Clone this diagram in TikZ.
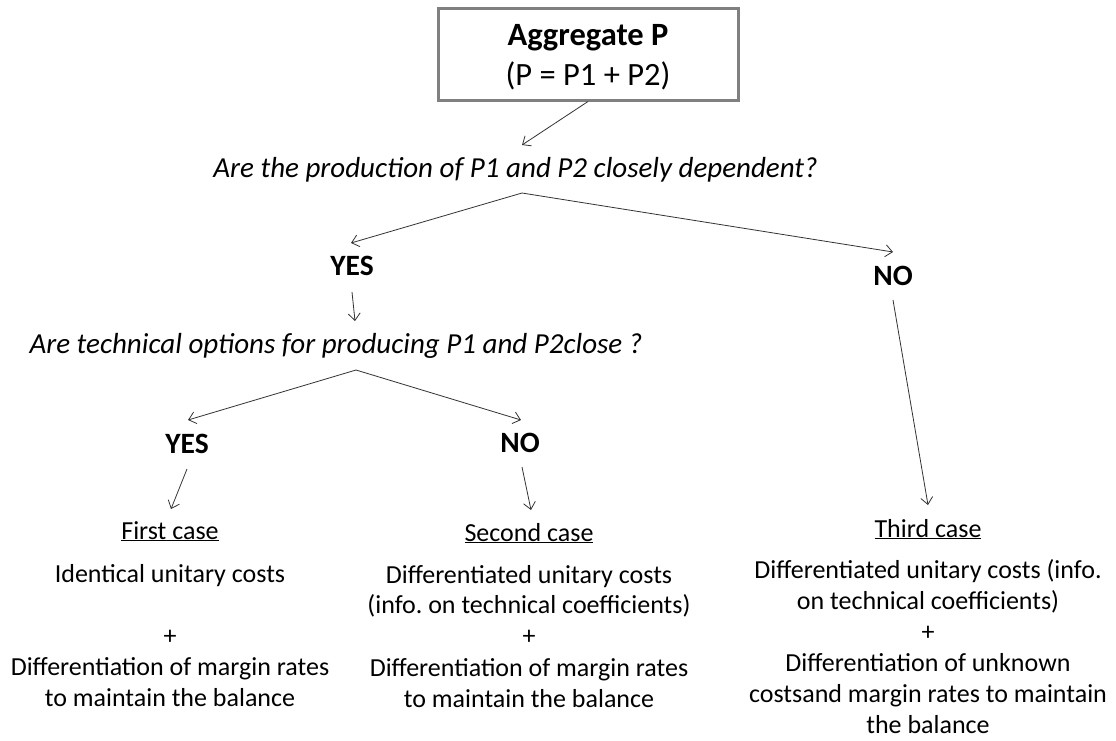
\documentclass[tikz,border=0pt]{standalone}
\usepackage{fontspec}
\setmainfont{Carlito}
\usetikzlibrary{arrows.meta}
\frenchspacing
\definecolor{boxgray}{HTML}{808080}
\definecolor{arrgray}{HTML}{333333}
\tikzset{
  boxst/.style={draw=boxgray, line width=3pt, minimum width=300pt, minimum height=92pt, inner sep=0pt, align=center, font=\fontsize{32.5}{40}\selectfont},
  qst/.style={inner sep=0pt, anchor=base, font=\fontsize{29}{31}\selectfont\itshape},
  ansst/.style={inner sep=0pt, anchor=base, font=\fontsize{29.5}{31}\selectfont\bfseries},
  bodyst/.style={inner sep=0pt, anchor=base, font=\fontsize{26}{31}\selectfont},
  arr/.style={draw=arrgray, line width=0.8pt, -{Straight Barb[length=7pt,width=12pt]}},
  lin/.style={draw=arrgray, line width=0.8pt}
}
\begin{document}
\begin{tikzpicture}[x=1pt,y=-1pt]
\fill[white] (0,0) rectangle (1116,740);
\path[use as bounding box] (0,0) rectangle (1116,740);

% top box
\node[boxst] (agg) at (588,54) {\rule{0pt}{27pt}\textbf{Aggregate P}\\(P = P1 + P2)};

% questions and answers
\node[qst] (q1) at (515.5,177) {Are the production of P1 and P2 closely dependent?};
\node[ansst] (yes1) at (352,275) {YES};
\node[ansst] (no1) at (893,285) {NO};
\node[qst] (q2) at (336,353) {Are technical options for producing P1 and P2close ?};
\node[ansst] (yes2) at (187,453) {YES};
\node[ansst] (no2) at (520,452) {NO};

% first case
\node[bodyst] (c1t) at (170,539) {\underline{First case}};
\node[bodyst] (c1a) at (170,582) {Identical unitary costs};
\node[bodyst] (c1b) at (170,644) {+};
\node[bodyst] (c1c) at (170,675) {Differentiation of margin rates};
\node[bodyst] (c1d) at (170,706) {to maintain the balance};

% second case
\node[bodyst] (c2t) at (529,541) {\underline{Second case}};
\node[bodyst] (c2a) at (529,583) {Differentiated unitary costs};
\node[bodyst] (c2b) at (529,613) {(info. on technical coefficients)};
\node[bodyst] (c2c) at (529,644) {+};
\node[bodyst] (c2d) at (529,676) {Differentiation of margin rates};
\node[bodyst] (c2e) at (529,707) {to maintain the balance};

% third case
\node[bodyst] (c3t) at (928,537) {\underline{Third case}};
\node[bodyst] (c3a) at (928,578) {Differentiated unitary costs (info.};
\node[bodyst] (c3b) at (928,609) {on technical coefficients)};
\node[bodyst] (c3c) at (928,640) {+};
\node[bodyst] (c3d) at (928,671) {Differentiation of unknown};
\node[bodyst] (c3e) at (928,702) {costsand margin rates to maintain};
\node[bodyst] (c3f) at (928,733) {the balance};

% connector points
\coordinate (q1in) at (522,145);
\coordinate (q1apex) at (522,193);
\coordinate (yes1in) at (351,243);
\coordinate (no1in) at (893,252);
\coordinate (yes1out) at (352,292);
\coordinate (q2in) at (355,321);
\coordinate (q2apex) at (356,370);
\coordinate (yes2in) at (188,420);
\coordinate (no2in) at (521,420);
\coordinate (yes2out) at (187,469);
\coordinate (c1in) at (171,509);
\coordinate (no2out) at (522,467);
\coordinate (c2in) at (531,510);
\coordinate (no1out) at (893,300);
\coordinate (c3in) at (928,505);

% connectors
\draw[arr] (agg.south) -- (q1in);
\draw[arr] (q1apex) -- (yes1in);
\draw[arr] (q1apex) -- (no1in);
\draw[arr] (yes1out) -- (q2in);
\draw[arr] (q2apex) -- (yes2in);
\draw[arr] (q2apex) -- (no2in);
\draw[arr] (yes2out) -- (c1in);
\draw[arr] (no2out) -- (c2in);
\draw[arr] (no1out) -- (c3in);
\end{tikzpicture}
\end{document}
